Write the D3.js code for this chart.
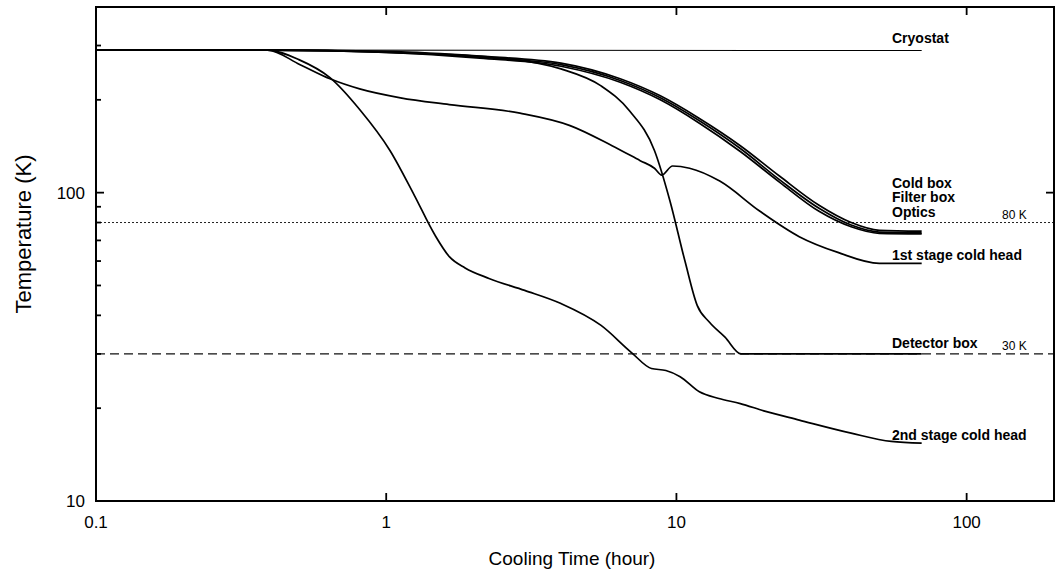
<!DOCTYPE html>
<html>
<head>
<meta charset="utf-8">
<script src="https://cdn.jsdelivr.net/npm/d3@7"></script>
<style>
  body { margin: 0; background: #fff; }
  text { font-family: "Liberation Sans", Arial, sans-serif; fill: #000; }
</style>
</head>
<body>
<div id="chart"></div>
<script>
// cooling curves, [hours, kelvin]
var cryostat = [[0.1, 290], [70, 289]];
var coldBox = [[0.1, 290], [0.39, 290], [1, 287], [2.1, 277], [4, 263], [6.4, 234], [8.8, 206], [12, 174], [16.6, 142], [22.7, 113], [31, 91], [40, 80], [50, 75.5], [70, 75]];
var filterBox = [[0.1, 290], [0.39, 290], [1, 286], [2.1, 275], [4, 260], [6.4, 231], [8.8, 203], [12, 171], [16.6, 139], [22.7, 110], [31, 89], [40, 78.5], [50, 74.5], [70, 74]];
var optics = [[0.1, 290], [0.39, 290], [1, 285], [2.1, 273], [4, 257], [6.4, 228], [8.8, 200], [12, 168], [16.6, 136], [22.7, 108], [31, 87], [40, 77.5], [50, 73.8], [70, 73.5]];
var detectorBox = [[0.1, 290], [0.39, 290], [1.12, 284], [2.6, 272], [4, 252], [5.5, 222], [6.9, 184], [8.4, 137], [9.5, 94], [10.7, 60], [11.8, 43], [13, 38], [14.7, 34], [16.7, 30], [70, 30]];
var firstStage = [[0.1, 290], [0.39, 290], [0.505, 260], [0.64, 234], [0.81, 217], [1.12, 203], [1.65, 193], [2.89, 181], [4.3, 165], [6, 142], [7.5, 127], [8.4, 120], [8.9, 114], [9.7, 122], [11.1, 120], [14.1, 109], [19.4, 87], [26.5, 72], [36, 64], [50, 59], [70, 59]];
var secondStage = [[0.1, 290], [0.39, 290], [0.5, 270], [0.64, 236], [0.81, 186], [1.03, 137], [1.25, 98], [1.47, 73], [1.65, 62], [1.87, 57], [2.26, 52.7], [3, 48.2], [4, 43.7], [5.5, 37.1], [7, 30.3], [8.2, 26.9], [9.2, 26.5], [10.3, 25.3], [12, 22.6], [14, 21.5], [16.6, 20.7], [20, 19.6], [26.5, 18.3], [40, 16.6], [55, 15.6], [70, 15.4]];

var curves = [cryostat, coldBox, filterBox, optics, detectorBox, firstStage, secondStage];

// label text and the kelvin level each sits at
var curveLabels = ["Cryostat", "Cold box", "Filter box", "Optics", "1st stage cold head", "Detector box", "2nd stage cold head"];
var labelTemps = [306, 103.5, 93.3, 83.4, 60.5, 31.35, 15.77];

var refTemps = [80, 30];
var refLabels = ["80 K", "30 K"];

var xTicks = [0.1, 1, 10, 100];
var xTickLabels = ["0.1", "1", "10", "100"];
var yTicks = [10, 100];
var yTickLabels = ["10", "100"];
var yMinor = [20, 30, 40, 50, 60, 70, 80, 90, 200, 300];

var W = 1057, H = 578;
var plotL = 96, plotR = 1054, plotT = 7, plotB = 501;

var x = d3.scaleLog().domain([0.1, 200]).range([plotL, plotR]);
var y = d3.scaleLog().domain([10, 400]).range([plotB, plotT]);

var svg = d3.select("#chart")
  .append("svg")
  .attr("width", W)
  .attr("height", H);

// reference lines
svg.append("line")
  .attr("x1", plotL).attr("x2", plotR)
  .attr("y1", y(refTemps[0])).attr("y2", y(refTemps[0]))
  .attr("stroke", "#222")
  .attr("stroke-width", 1)
  .attr("stroke-dasharray", "2,2");
svg.append("line")
  .attr("x1", plotL).attr("x2", plotR)
  .attr("y1", y(refTemps[1])).attr("y2", y(refTemps[1]))
  .attr("stroke", "#111")
  .attr("stroke-width", 1.2)
  .attr("stroke-dasharray", "9,5");

refLabels.forEach(function(t, i) {
  svg.append("text")
    .attr("x", 1002)
    .attr("y", y(refTemps[i]) - 4)
    .style("font-size", "12px")
    .text(t);
});

var line = d3.line()
  .x(function(d) { return x(d[0]); })
  .y(function(d) { return y(d[1]); })
  .curve(d3.curveMonotoneX);

svg.append("g")
  .selectAll("path")
  .data(curves)
  .enter()
  .append("path")
  .attr("d", line)
  .attr("fill", "none")
  .attr("stroke", "#000")
  .attr("stroke-width", function(d, i) { return i == 0 ? 1.1 : 1.7; });

curveLabels.forEach(function(t, i) {
  svg.append("text")
    .attr("x", 892)
    .attr("y", y(labelTemps[i]))
    .style("font-size", "14px")
    .style("font-weight", "bold")
    .text(t);
});

// frame
svg.append("rect")
  .attr("x", plotL).attr("y", plotT)
  .attr("width", plotR - plotL).attr("height", plotB - plotT)
  .attr("fill", "none")
  .attr("stroke", "#000")
  .attr("stroke-width", 2);

// ticks, pointing inward
var tickG = svg.append("g").attr("stroke", "#000").attr("stroke-width", 1.8);
xTicks.forEach(function(v) {
  tickG.append("line").attr("x1", x(v)).attr("x2", x(v)).attr("y1", plotB).attr("y2", plotB - 8);
  tickG.append("line").attr("x1", x(v)).attr("x2", x(v)).attr("y1", plotT).attr("y2", plotT + 8);
});
yTicks.forEach(function(v) {
  tickG.append("line").attr("x1", plotL).attr("x2", plotL + 8).attr("y1", y(v)).attr("y2", y(v));
  tickG.append("line").attr("x1", plotR).attr("x2", plotR - 8).attr("y1", y(v)).attr("y2", y(v));
});
yMinor.forEach(function(v) {
  tickG.append("line").attr("x1", plotL).attr("x2", plotL + 5).attr("y1", y(v)).attr("y2", y(v));
});

xTicks.forEach(function(v, i) {
  svg.append("text")
    .attr("x", x(v))
    .attr("y", 528)
    .attr("text-anchor", "middle")
    .style("font-size", "17px")
    .text(xTickLabels[i]);
});
yTicks.forEach(function(v, i) {
  svg.append("text")
    .attr("x", 85)
    .attr("y", y(v) + 6)
    .attr("text-anchor", "end")
    .style("font-size", "17px")
    .text(yTickLabels[i]);
});

svg.append("text")
  .attr("x", 572)
  .attr("y", 565)
  .attr("text-anchor", "middle")
  .style("font-size", "19px")
  .text("Cooling Time (hour)");

svg.append("text")
  .attr("transform", "translate(31," + 234 + ") rotate(-90)")
  .attr("text-anchor", "middle")
  .style("font-size", "22px")
  .text("Temperature (K)");
</script>
</body>
</html>
